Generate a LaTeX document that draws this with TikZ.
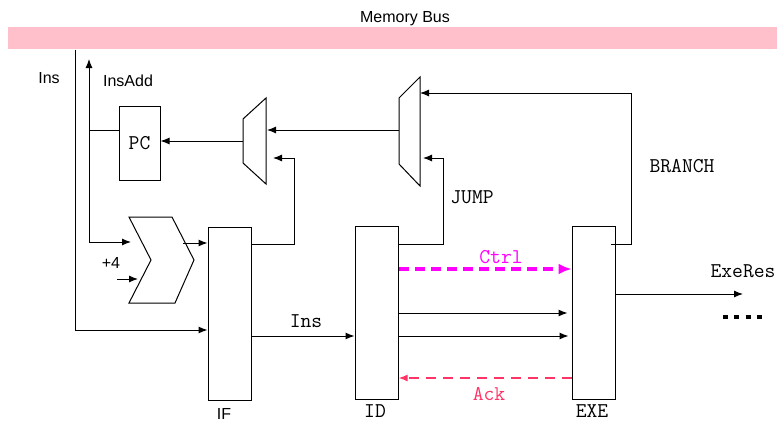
\documentclass[tikz,border=0pt]{standalone}
\usepackage{fontspec}
\setmainfont{Liberation Sans}
\usetikzlibrary{arrows.meta}
\definecolor{busPink}{RGB}{255,192,203}
\definecolor{ctrlMag}{RGB}{255,0,255}
\definecolor{ackRed}{RGB}{255,51,102}
\begin{document}
\begin{tikzpicture}[
		x=1pt, y=-1pt,
		line width=1pt,
		every node/.style={font=\fontsize{16}{18}\selectfont},
		mono/.style={font=\fontsize{21}{24}\selectfont\ttfamily},
		stage/.style={draw, minimum width=43pt, minimum height=173pt, inner sep=0pt},
		bus/.style={fill=busPink, minimum width=769pt, minimum height=22pt, inner sep=0pt},
		arr/.style={-{Latex[length=9pt,width=7pt]}},
		ctrl/.style={draw=ctrlMag, line width=4pt, dash pattern=on 10pt off 6pt, -{Latex[length=13pt,width=11pt]}},
		ack/.style={draw=ackRed, line width=1.6pt, dash pattern=on 10pt off 7pt, -{Latex[length=9pt,width=7pt]}},
		dots/.style={line width=4pt, dash pattern=on 5pt off 6.3pt}
	]
	\useasboundingbox (0,0) rectangle (777,423);
	\node[bus] (bus) at (392.5,38) {};
	\node[anchor=base] (busLbl) at (405,23) {Memory Bus};
	\node[stage] (IF) at (229.5,314) {};
	\node[stage] (ID) at (376.5,312.5) {};
	\node[stage] (EXE) at (593.5,312.5) {};
	\node[draw, mono, minimum width=41pt, minimum height=74pt, inner sep=0pt] (PC) at (139.5,143) {PC};
	% muxes and adder
	\draw (243,119) -- (266,98) -- (266,184) -- (243,163) -- cycle;
	\draw (399,98) -- (420,77) -- (420,186) -- (399,164) -- cycle;
	\draw (129,217) -- (172,217) -- (194,260) -- (175,303) -- (129,303) -- (151,260) -- cycle;
	\coordinate (muxAout) at (243,141);
	\coordinate (muxAinA) at (267,130);
	\coordinate (muxAinB) at (273,158);
	\coordinate (muxBout) at (399,130);
	\coordinate (muxBinA) at (420,93);
	\coordinate (muxBinB) at (423,158);
	\coordinate (addInA) at (131,242);
	\coordinate (addInB) at (138,279);
	\coordinate (addOut) at (183,243);
	\coordinate (four) at (117,279);
	\coordinate (insAdd) at (89,59);
	\coordinate (exeRes) at (743,294);
	\coordinate (dotsA) at (723,317);
	\coordinate (dotsB) at (762,317);
	% connectors
	\draw[arr] (bus.south -| 75,0) |- (IF.west |- 0,330);
	\draw[{Latex[length=9pt,width=7pt]}-{Latex[length=9pt,width=7pt]}] (insAdd) |- (addInA);
	\draw (insAdd |- 0,130) -- (PC.west |- 0,130);
	\draw[arr] (muxAout) -- (PC.east |- muxAout);
	\draw[arr] (muxBout) -- (muxAinA);
	\draw[arr] (IF.east |- 0,244) -| ([xshift=21pt]muxAinB) -- (muxAinB);
	\draw[arr] (ID.east |- 0,244) -| ([xshift=20pt]muxBinB) -- (muxBinB);
	\draw[arr] ([xshift=-5pt]EXE.east |- 0,244) -| (631,93) -- (muxBinA);
	\draw[arr] (four) -- (addInB);
	\draw[arr] (addOut) -- (IF.west |- addOut);
	\draw[arr] (IF.east |- 0,336) -- (ID.west |- 0,336);
	\draw[ctrl] (ID.east |- 0,269) -- (EXE.west |- 0,269);
	\draw[arr, shorten >=4pt] (ID.east |- 0,313) -- (EXE.west |- 0,313);
	\draw[arr, shorten >=3pt] (ID.east |- 0,336) -- (EXE.west |- 0,336);
	\draw[ack] (EXE.west |- 0,378) -- (ID.east |- 0,378);
	\draw[arr] (EXE.east |- exeRes) -- (exeRes);
	\draw[dots] (dotsA) -- (dotsB);
	% labels
	\node[anchor=base] (insLbl) at (49,83) {Ins};
	\node[anchor=base] (insAddLbl) at (128,86) {InsAdd};
	\node[anchor=base] (plusFour) at (111,268) {+4};
	\node[anchor=base] (ifLbl) at (224,419) {IF};
	\node[mono, anchor=base] (idLbl) at (375,417) {ID};
	\node[mono, anchor=base] (exeLbl) at (592,417) {EXE};
	\node[mono, anchor=base] (jumpLbl) at (472,203) {JUMP};
	\node[mono, anchor=base] (branchLbl) at (682,172) {BRANCH};
	\node[mono, anchor=base, text=ctrlMag] (ctrlLbl) at (501,263) {Ctrl};
	\node[mono, anchor=base, text=ackRed] (ackLbl) at (489,400) {Ack};
	\node[mono, anchor=base] (insIdLbl) at (306,327) {Ins};
	\node[mono, anchor=base] (exeResLbl) at (743,277) {ExeRes};
\end{tikzpicture}
\end{document}
